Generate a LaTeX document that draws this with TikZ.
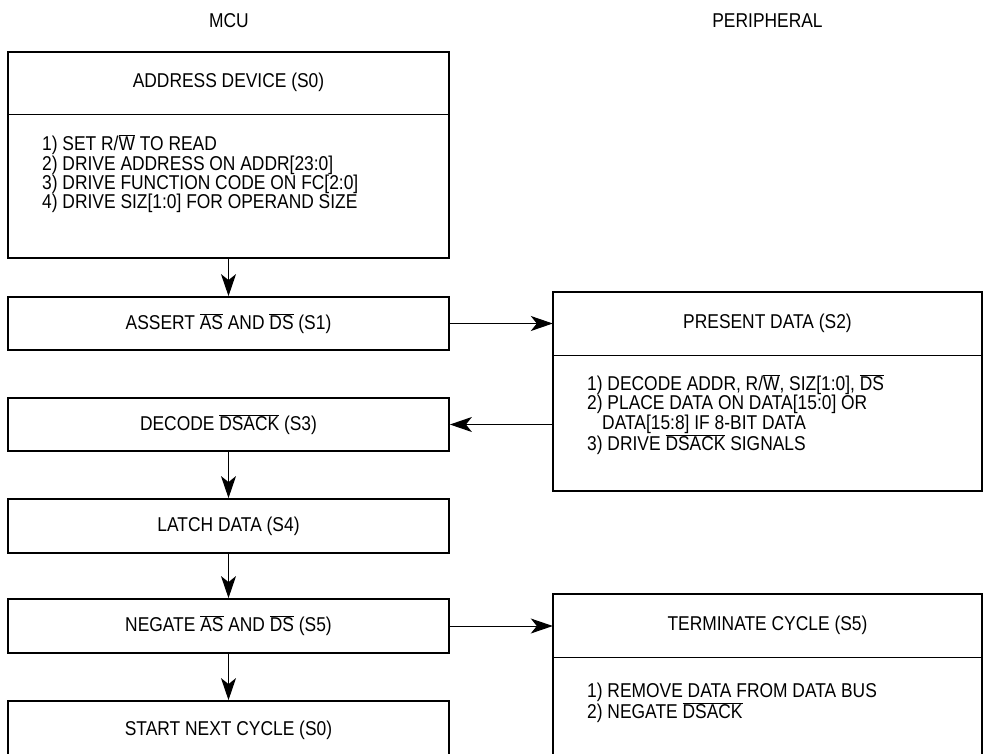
\documentclass[tikz,border=0pt]{standalone}
\usepackage{fontspec}
\setmainfont[FakeStretch=0.87]{Liberation Sans}
\usetikzlibrary{positioning,arrows.meta}

\newcommand{\ovl}[1]{$\overline{\mbox{#1}}$}

\begin{document}
\begin{tikzpicture}[
    x=1pt, y=-1pt,
    every node/.style={
        font=\fontsize{20}{19.3}\selectfont
    },
    mcubox/.style={
        rectangle,
        draw,
        line width=1.8pt,
        minimum width=441pt,
        inner sep=0pt
    },
    perbox/.style={
        mcubox,
        minimum width=429pt
    },
    title/.style={
        rectangle,
        inner sep=0pt
    },
    items/.style={
        anchor=west,
        align=left,
        inner sep=0pt
    },
    divider/.style={
        line width=1pt
    },
    arr/.style={
        line width=1pt,
        -{Stealth[length=22pt,width=15pt,inset=6pt]}
    }
]
\clip (0,0) rectangle (983,753);

% Headings
\node (mcu) at (229,21) {MCU};
\node (per) at (767.5,21) {PERIPHERAL};

% MCU side
\node[mcubox, minimum height=206pt] (addr) at (228.5,155) {};
\node[title, minimum width=441pt, minimum height=63pt, below=0pt of addr.north] (addrtitle) {ADDRESS DEVICE (S0)};
\draw[divider] (addrtitle.south west) -- (addrtitle.south east);
\node[items] (addritems) at (42,174) {%
 1) SET R/\ovl{W} TO READ\\
2) DRIVE ADDRESS ON ADDR[23:0]\\
3) DRIVE FUNCTION CODE ON FC[2:0]\\
4) DRIVE SIZ[1:0] FOR OPERAND SIZE};

\node[mcubox, minimum height=53pt] (assert) at (228.5,323.5) {ASSERT \ovl{AS} AND \ovl{DS} (S1)};
\node[mcubox, minimum height=53pt] (decode) at (228.5,424.5) {DECODE \ovl{DSACK} (S3)};
\node[mcubox, minimum height=54pt] (latch) at (228.5,526) {LATCH DATA (S4)};
\node[mcubox, minimum height=54pt] (negate) at (228.5,626) {NEGATE \ovl{AS} AND \ovl{DS} (S5)};
\node[mcubox, minimum height=59pt] (start) at (228.5,730.5) {START NEXT CYCLE (S0)};

% Peripheral side
\node[perbox, minimum height=199pt] (present) at (767.5,391.5) {};
\node[title, minimum width=429pt, minimum height=64pt, below=0pt of present.north] (presenttitle) {PRESENT DATA (S2)};
\draw[divider] (presenttitle.south west) -- (presenttitle.south east);
\node[items] (presentitems) at (587,414.5) {%
1) DECODE ADDR, R/\ovl{W}, SIZ[1:0], \ovl{DS}\\
2) PLACE DATA ON DATA[15:0] OR\\
\hspace*{15pt}DATA[15:8] IF 8-BIT DATA\\
3) DRIVE \ovl{DSACK} SIGNALS};

\node[perbox, minimum height=172pt] (term) at (767.5,680) {};
\node[title, minimum width=429pt, minimum height=64pt, below=0pt of term.north] (termtitle) {TERMINATE CYCLE (S5)};
\draw[divider] (termtitle.south west) -- (termtitle.south east);
\node[items] (termitems) at (587,702.5) {%
1) REMOVE DATA FROM DATA BUS\\
2) NEGATE \ovl{DSACK}};

% Arrows
\draw[arr] (addr) -- (assert);
\draw[arr] (assert.east) -- (assert.east -| presenttitle.west);
\draw[arr] (present.west |- decode.east) -- (decode.east);
\draw[arr] (decode) -- (latch);
\draw[arr] (latch) -- (negate);
\draw[arr] (negate.east) -- (negate.east -| termtitle.west);
\draw[arr] (negate) -- (start);

\end{tikzpicture}
\end{document}
